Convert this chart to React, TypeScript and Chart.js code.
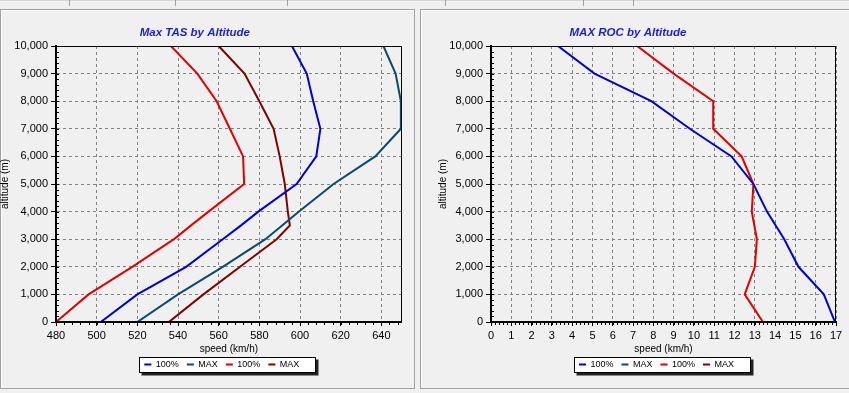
import React, { useEffect, useRef } from 'react';
import { Chart, registerables } from 'chart.js';

Chart.register(...registerables);

const FONT = '"Liberation Sans", Arial, Helvetica, sans-serif';

// ---- Left chart: Max TAS by Altitude ----
const tasAltitudes = [0, 1000, 2000, 3000, 3500, 4000, 5000, 6000, 7000, 8000, 9000, 10000];
const tas100Blue = [502, 520, 544, 562, 571, 579.5, 598.3, 608, 610, 606.5, 603.3, 596];
const tasMaxBlue = [520, 540, 562, 583, 591.2, 599.5, 616.5, 637, 649.6, 649.6, 647, 641];
const tas100Red = [480, 496, 517.5, 538, 546.4, 555, 572.5, 572, 565.5, 559, 549.5, 536.5];
const tasMaxRed = [535.5, 552.5, 570.5, 588.5, 595, 594, 592.5, 590, 587, 580, 572.7, 560];
const tasTicks = [480, 500, 520, 540, 560, 580, 600, 620, 640];

// ---- Right chart: MAX ROC by Altitude ----
const rocAltitudes = [0, 1000, 2000, 3000, 4000, 5000, 6000, 7000, 8000, 9000, 10000];
const roc100Blue = [16.95, 16.4, 15.15, 14.45, 13.6, 12.93, 11.85, 9.8, 7.9, 5.1, 3.3];
const rocMaxBlue: number[] = [];
const roc100Red = [13.4, 12.5, 13.0, 13.1, 12.85, 12.93, 12.35, 10.95, 10.95, 9.0, 7.2];
const rocMaxRed: number[] = [];
const rocTicks = [0, 1, 2, 3, 4, 5, 6, 7, 8, 9, 10, 11, 12, 13, 14, 15, 16, 17];

const altTicks = [0, 1000, 2000, 3000, 4000, 5000, 6000, 7000, 8000, 9000, 10000];

const BLUE = '#0000cc';
const TEAL = '#0b4a6e';
const RED = '#dd0000';
const DARKRED = '#7f0000';

function series(label: string, xs: number[], ys: number[], color: string) {
  return {
    label,
    data: xs.map((x, i) => ({ x, y: ys[i] })),
    borderColor: color,
    backgroundColor: color,
    borderWidth: 2,
    pointRadius: 0,
    pointHoverRadius: 0,
    fill: false,
    tension: 0,
  };
}

const framePlugin = {
  id: 'frame',
  afterDatasetsDraw(chart: any, _args: any, opts: any) {
    const { ctx, chartArea: a } = chart;
    const xs = chart.scales.x;
    const ys = chart.scales.y;
    ctx.save();
    ctx.setLineDash([]);
    ctx.strokeStyle = '#000';
    ctx.lineWidth = 1;
    ctx.beginPath();
    const top = Math.round(a.top) + 0.5;
    const right = Math.round(a.right) - 0.5;
    ctx.moveTo(a.left, top);
    ctx.lineTo(right, top);
    ctx.lineTo(right, a.bottom);
    ctx.stroke();
    // minor ticks
    ctx.beginPath();
    const xStep = opts.xStep;
    const n = Math.round((xs.max - xs.min) / xStep);
    for (let i = 1; i < n; i++) {
      const px = Math.round(xs.getPixelForValue(xs.min + i * xStep)) + 0.5;
      ctx.moveTo(px, a.bottom);
      ctx.lineTo(px, a.bottom + 3);
    }
    const yStep = opts.yStep;
    const m = Math.round((ys.max - ys.min) / yStep);
    for (let i = 1; i < m; i++) {
      const py = Math.round(ys.getPixelForValue(ys.min + i * yStep)) + 0.5;
      ctx.moveTo(a.left, py);
      ctx.lineTo(a.left + 3, py);
    }
    ctx.stroke();
    // thick left & bottom axis lines
    ctx.lineWidth = 2;
    ctx.beginPath();
    ctx.moveTo(Math.round(a.left), a.top);
    ctx.lineTo(Math.round(a.left), Math.round(a.bottom));
    ctx.lineTo(a.right, Math.round(a.bottom));
    ctx.stroke();
    ctx.restore();
  },
};

const legendBoxPlugin = {
  id: 'legendBox',
  afterLayout(chart: any, _args: any, opts: any) {
    const lg = chart.legend;
    if (lg) {
      lg.left += opts.dx;
      lg.right += opts.dx;
    }
  },
  beforeDraw(chart: any) {
    const lg = chart.legend;
    if (!lg || !lg.lineWidths) return;
    const pad = lg.options.labels.padding;
    const lw = lg.lineWidths[0];
    const start = (lg.left + pad + lg.right - lw) / 2;
    const end = start + lw - pad;
    const yc = lg.top + pad + 4.5;
    const x0 = Math.round(start - 5) + 0.5;
    const x1 = Math.round(end + 16) + 0.5;
    const y0 = Math.round(yc - 7.5) + 0.5;
    const h = 15;
    const { ctx } = chart;
    ctx.save();
    ctx.fillStyle = '#222';
    ctx.fillRect(x0 + 2, y0 + 2, x1 - x0 + 1, h + 1);
    ctx.fillStyle = '#fff';
    ctx.fillRect(x0, y0, x1 - x0, h);
    ctx.strokeStyle = '#000';
    ctx.lineWidth = 1;
    ctx.strokeRect(x0, y0, x1 - x0, h);
    ctx.restore();
  },
};

function makeConfig(p: {
  title: string;
  datasets: any[];
  xMin: number;
  xMax: number;
  xTicks: number[];
  xStep: number;
  yAxisWidth: number;
  yTitlePad: number;
  rightPad: number;
}) {
  const tickFont = { family: FONT, size: 11 };
  const titleFont = { family: FONT, size: 10 };
  return {
    type: 'line',
    data: { datasets: p.datasets },
    options: {
      animation: false,
      responsive: false,
      maintainAspectRatio: false,
      events: [],
      layout: { padding: { top: 0, right: p.rightPad, bottom: 9, left: 0 } },
      plugins: {
        title: {
          display: true,
          text: p.title,
          color: '#1c1cdc',
          font: { family: FONT, size: 11.5, weight: 'bold', style: 'italic' },
          padding: { top: 16.1, bottom: 6.1 },
        },
        legend: {
          position: 'bottom',
          fullSize: false,
          labels: {
            usePointStyle: true,
            pointStyle: 'line',
            pointStyleWidth: 7,
            boxHeight: 9,
            padding: 8,
            color: '#000',
            font: { family: FONT, size: 9 },
          },
        },
        tooltip: { enabled: false },
        frame: { xStep: p.xStep, yStep: 200 },
        legendBox: { dx: -7 },
      },
      scales: {
        x: {
          type: 'linear',
          min: p.xMin,
          max: p.xMax,
          afterBuildTicks: (s: any) => {
            s.ticks = p.xTicks.map((v) => ({ value: v }));
          },
          afterFit: (s: any) => {
            s.height = 30;
          },
          ticks: { color: '#000', font: tickFont, padding: 3, maxRotation: 0, autoSkip: false },
          grid: { color: '#808080', lineWidth: 1, tickColor: '#000', tickLength: 4, tickBorderDash: [] },
          border: { display: true, color: '#000', width: 2, dash: [3, 3] },
          title: { display: true, text: 'speed (km/h)', color: '#000', font: titleFont, padding: { top: 0, bottom: -3 } },
        },
        y: {
          type: 'linear',
          min: 0,
          max: 10000,
          afterBuildTicks: (s: any) => {
            s.ticks = altTicks.map((v) => ({ value: v }));
          },
          afterFit: (s: any) => {
            s.width = p.yAxisWidth;
          },
          ticks: {
            color: '#000',
            font: tickFont,
            padding: 3,
            callback: (v: any) => Number(v).toLocaleString('en-US'),
          },
          grid: { color: '#808080', lineWidth: 1, tickColor: '#000', tickLength: 5, tickBorderDash: [] },
          border: { display: true, color: '#000', width: 2, dash: [3, 3] },
          title: { display: true, text: 'altitude (m)', color: '#000', font: titleFont, padding: { top: p.yTitlePad, bottom: 0 } },
        },
      },
    },
    plugins: [framePlugin, legendBoxPlugin],
  };
}

function ChartCanvas(props: { makeCfg: () => any; left: number; top: number; width: number; height: number }) {
  const ref = useRef<HTMLCanvasElement | null>(null);
  useEffect(() => {
    const chart = new Chart(ref.current as HTMLCanvasElement, props.makeCfg());
    return () => chart.destroy();
  }, []);
  return (
    <canvas
      ref={ref}
      width={props.width}
      height={props.height}
      style={{ position: 'absolute', left: props.left, top: props.top, width: props.width, height: props.height }}
    />
  );
}

const tasConfig = () =>
  makeConfig({
    title: 'Max TAS by Altitude',
    datasets: [
      series('100%', tas100Blue, tasAltitudes, BLUE),
      series('MAX', tasMaxBlue, tasAltitudes, TEAL),
      series('100%', tas100Red, tasAltitudes, RED),
      series('MAX', tasMaxRed, tasAltitudes, DARKRED),
    ],
    xMin: 480,
    xMax: 650,
    xTicks: tasTicks,
    xStep: 4,
    yAxisWidth: 68,
    yTitlePad: 11.5,
    rightPad: 12.3,
  });

const rocConfig = () =>
  makeConfig({
    title: 'MAX ROC by Altitude',
    datasets: [
      series('100%', roc100Blue, rocAltitudes, BLUE),
      series('MAX', rocMaxBlue, rocAltitudes, TEAL),
      series('100%', roc100Red, rocAltitudes, RED),
      series('MAX', rocMaxRed, rocAltitudes, DARKRED),
    ],
    xMin: 0,
    xMax: 17,
    xTicks: rocTicks,
    xStep: 0.2,
    yAxisWidth: 71,
    yTitlePad: 17.7,
    rightPad: 13,
  });

const tabLines = [69, 175, 287, 445, 583, 633];

export default function App() {
  return (
    <div
      style={{
        position: 'fixed',
        left: 0,
        top: 0,
        width: 849,
        height: 393,
        background: '#f0f0f0',
        overflow: 'hidden',
      }}
    >
      <div style={{ position: 'absolute', left: 0, top: 0, width: 849, height: 1, background: '#d8d8d8' }} />
      {tabLines.map((x) => (
        <div key={x} style={{ position: 'absolute', left: x, top: 0, width: 1, height: 6, background: '#a0a0a0' }} />
      ))}
      <div
        style={{
          position: 'absolute',
          left: 0,
          top: 9,
          width: 415,
          height: 380,
          boxSizing: 'border-box',
          border: '1px solid #a0a0a0',
          boxShadow: 'inset 1px 1px 0 #ffffff',
        }}
      />
      <div
        style={{
          position: 'absolute',
          left: 420,
          top: 9,
          width: 440,
          height: 380,
          boxSizing: 'border-box',
          border: '1px solid #a0a0a0',
          boxShadow: 'inset 1px 1px 0 #ffffff',
        }}
      />
      <ChartCanvas makeCfg={tasConfig} left={-12} top={10} width={426} height={378} />
      <ChartCanvas makeCfg={rocConfig} left={420} top={10} width={429} height={378} />
    </div>
  );
}
